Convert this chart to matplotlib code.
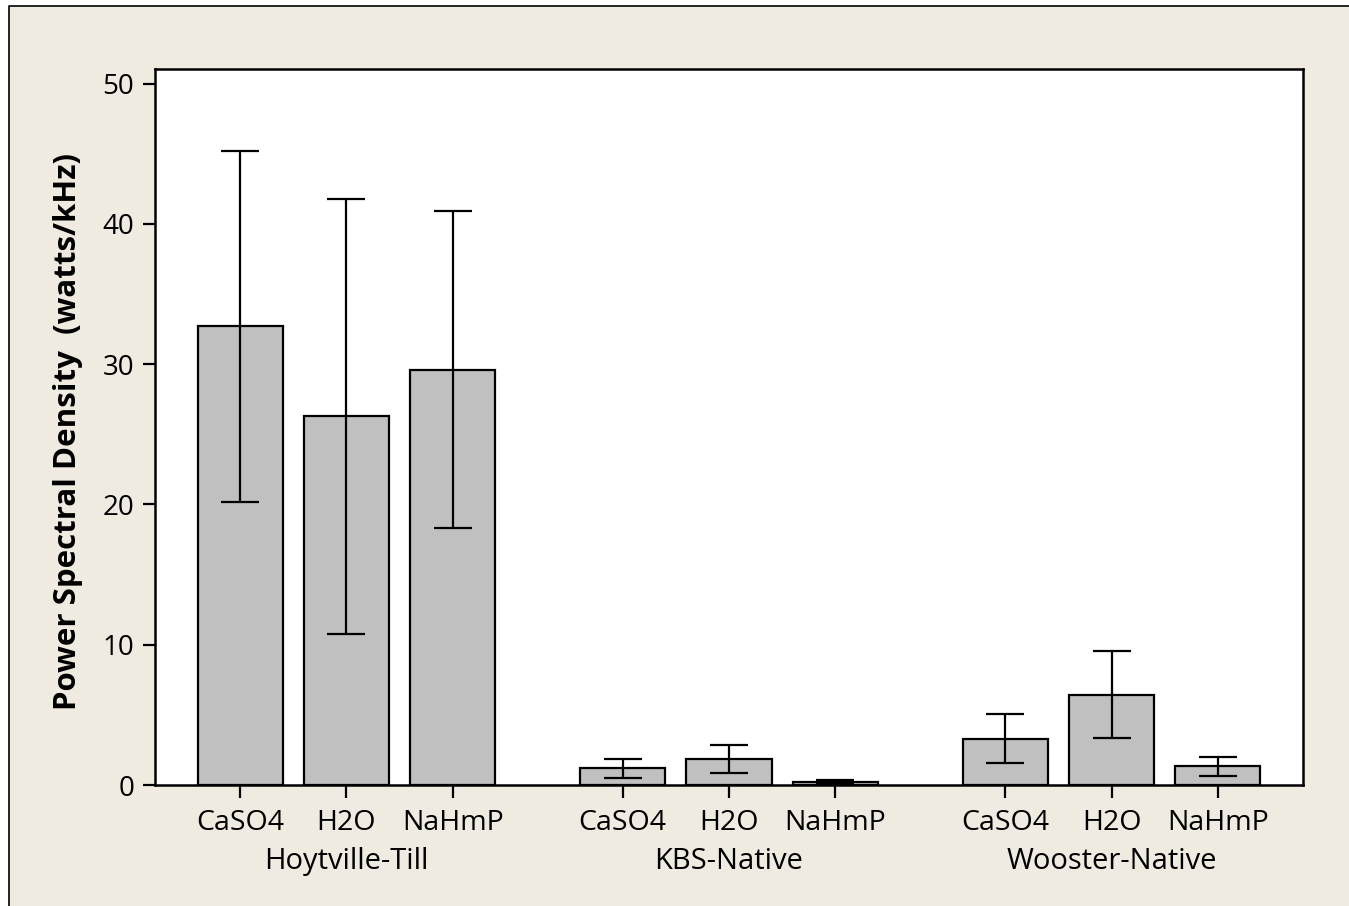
import numpy as np
import matplotlib.pyplot as plt
from matplotlib.patches import Rectangle
from matplotlib.lines import Line2D

plt.rcParams['font.family'] = ['Open Sans', 'DejaVu Sans']

groups = ['Hoytville-Till', 'KBS-Native', 'Wooster-Native']
treatments = ['CaSO4', 'H2O', 'NaHmP']
means = [32.7, 26.3, 29.6,
         1.2, 1.85, 0.2,
         3.3, 6.45, 1.34]
errs = [12.5, 15.5, 11.3,
        0.68, 1.02, 0.15,
        1.76, 3.1, 0.68]

W, H = 1349, 906
fig = plt.figure(figsize=(W / 100, H / 100), dpi=100, facecolor='white')
# beige panel with a frame on the left and top edges only
fig.patches.append(Rectangle((9 / W, 0), 1, 1 - 6 / H, transform=fig.transFigure,
                             facecolor='#F0EBE1', edgecolor='none', zorder=-10))
fig.lines.append(Line2D([9 / W, 9 / W, 1], [0, 1 - 6 / H, 1 - 6 / H],
                        transform=fig.transFigure, color='black', linewidth=1.2, zorder=-9))

ax = fig.add_axes([155 / W, (H - 785) / H, (1303 - 155) / W, (785 - 69) / H])
ax.set_facecolor('white')

gap = 0.6
x = np.array([g * (3 + gap) + i for g in range(3) for i in range(3)])

ax.bar(x, means, width=0.8, color='#C0C0C0', edgecolor='black', linewidth=1.6, zorder=2)
ax.errorbar(x, means, yerr=errs, fmt='none', ecolor='black', elinewidth=1.6,
            capsize=14, capthick=1.6, zorder=3)

ax.set_xlim(-0.8, x[-1] + 0.8)
ax.set_ylim(0, 51.05)
ax.set_yticks([0, 10, 20, 30, 40, 50])
ax.set_xticks(x)
ax.set_xticklabels(treatments * 3)
ax.tick_params(axis='both', length=9, width=1.6, labelsize=20, pad=6, color='black')
ax.tick_params(axis='x', labelsize=20.5, pad=8)
for s in ax.spines.values():
    s.set_linewidth(1.8)

for g, name in enumerate(groups):
    ax.text(x[g * 3 + 1], -0.1075, name, transform=ax.get_xaxis_transform(),
            ha='center', va='center', fontsize=21)

fig.text(68 / W, 1 - 431 / H, 'Power Spectral Density  (watts/kHz)', rotation=90,
         ha='center', va='center', fontsize=22.5, fontweight='bold')

fig.savefig('out.png', dpi=100, facecolor=fig.get_facecolor())
